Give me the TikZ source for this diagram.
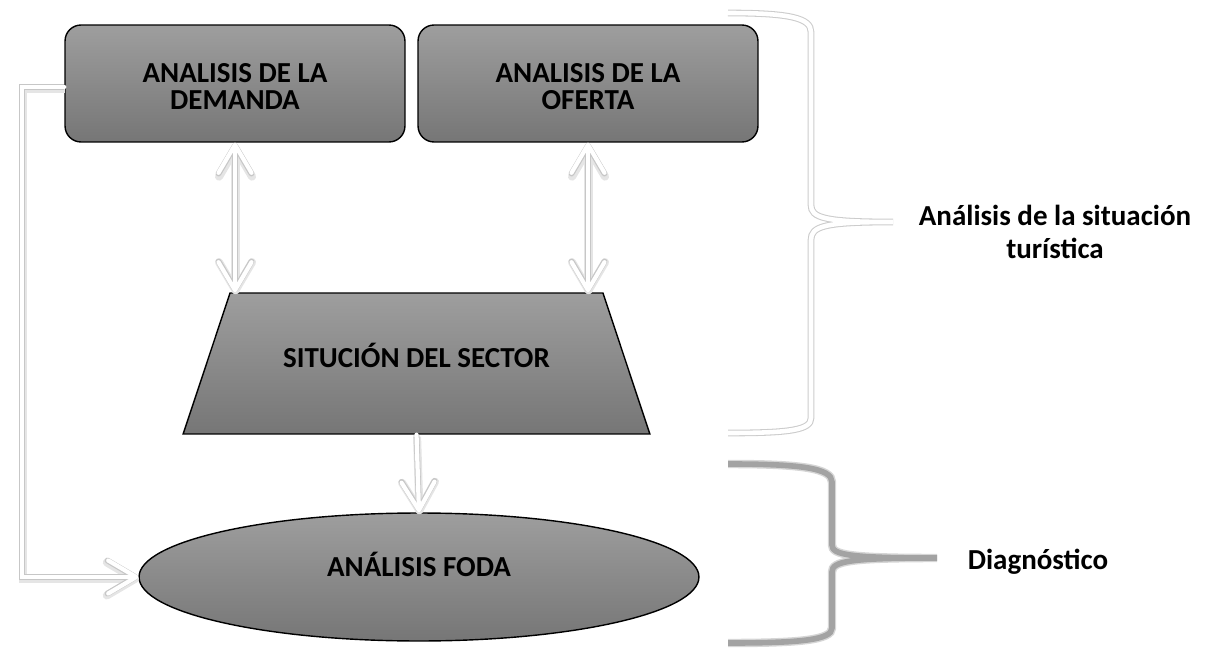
\documentclass[tikz,border=0pt]{standalone}
\usepackage{fontspec}
\setmainfont{Carlito}
\usepackage{tikz}
\usetikzlibrary{arrows.meta, shapes.geometric}
\definecolor{grisalto}{HTML}{9E9E9E}
\definecolor{grisbajo}{HTML}{767676}

\begin{document}
\begin{tikzpicture}[x=0.02cm, y=-0.02cm,
				>={Straight Barb[length=0.56cm, width=0.66cm, round]},
				caja/.style={draw=black, line width=0.8pt, top color=grisalto, bottom color=grisbajo,
					font=\fontsize{16.5}{15.5}\selectfont\bfseries, align=center, inner sep=0pt},
				flecha/.style={draw=white, line width=2.4pt, line cap=round,
					preaction={draw=black!10, line width=4.6pt, transform canvas={shift={(0.3pt,-1.1pt)}}},
					preaction={draw=black!22, line width=3.3pt}},
				rotulo/.style={font=\fontsize{16.5}{18.8}\selectfont\bfseries, align=center}]
				\useasboundingbox (0,0) rectangle (1208,649);
				\node at (235,83.5) (dem) [caja, rounded corners=0.32cm, minimum width=6.8cm, minimum height=2.34cm,
					text height=1.1cm, text depth=0.07cm] {ANALISIS DE LA\\DEMANDA};
				\node at (588,83.5) (ofe) [caja, rounded corners=0.32cm, minimum width=6.8cm, minimum height=2.34cm,
					text height=1.1cm, text depth=0.07cm] {ANALISIS DE LA\\OFERTA};
				\node at (416.5,363.5) (sector) [caja, trapezium, trapezium angle=71.6, text width=7cm, inner xsep=0.23cm,
					align=flush center, text height=0.357cm, text depth=0.203cm, inner ysep=1.13cm] {SITUCIÓN DEL SECTOR};
				\node at (419,577) (foda) [caja, ellipse, minimum width=11.2cm, minimum height=2.56cm,
					text height=0.4cm, text depth=0.43cm] {ANÁLISIS FODA};
				\node at (1055,232) (sit) [rotulo] {Análisis de la situación\\turística};
				\node at (1038,562) (diag) [rotulo] {Diagnóstico};
				\draw[flecha, <->] (dem.south) -- (dem.south |- sector.north);
				\draw[flecha, <->] (ofe.south) -- (ofe.south |- sector.north);
				\draw[flecha, ->] (sector.south) -- (foda.north);
				\draw[flecha, ->] ([yshift=-0.07cm]dem.west) -- ++(-42,0) |- (foda.west);
				% llaves
				\draw[draw=black!20, double=white, double distance=2.6pt, line width=0.6pt]
					(728,13) .. controls (790,13) and (811,18) .. (811,32) -- (811,205)
					.. controls (811,218) and (825,222) .. (893,222)
					.. controls (825,222) and (811,226) .. (811,240) -- (811,418)
					.. controls (811,430) and (790,433) .. (728,433);
				\draw[draw=black!36, line width=3.2pt, preaction={draw=black!16, line width=4.8pt}]
					(728,464) .. controls (800,464) and (832,468) .. (832,482) -- (832,545)
					.. controls (832,555) and (850,558) .. (937,558)
					.. controls (850,558) and (832,561) .. (832,572) -- (832,628)
					.. controls (832,640) and (800,643) .. (728,643);
			\end{tikzpicture}
\end{document}
